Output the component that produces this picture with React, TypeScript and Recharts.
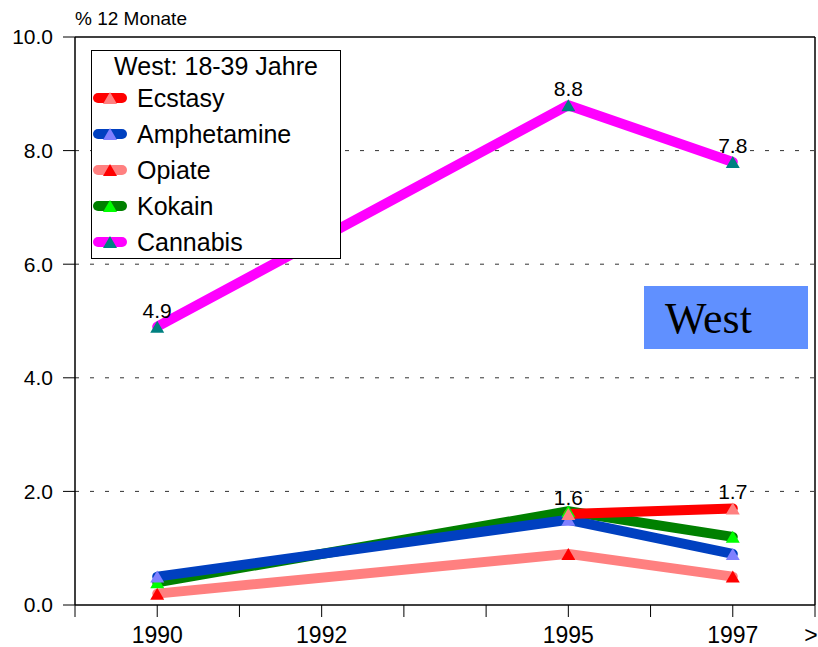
import { LineChart, Line, XAxis, YAxis, CartesianGrid, ReferenceLine, LabelList } from 'recharts'

// survey years and 12-month prevalence (%), West, age 18-39
const years = [1990, 1995, 1997]
const ecstasy = [null, 1.6, 1.7]
const amphetamine = [0.5, 1.5, 0.9]
const opiate = [0.2, 0.9, 0.5]
const kokain = [0.4, 1.65, 1.2]
const cannabis = [4.9, 8.8, 7.8]

const xTicks = [1989, 1990, 1991, 1992, 1993, 1994, 1995, 1996, 1997, 1998]
const xTickLabels: Record<number, string> = { 1990: '1990', 1992: '1992', 1995: '1995', 1997: '1997', 1998: '>' }
const yTicks = [0, 2, 4, 6, 8, 10]

const FONT = '"Liberation Sans", Arial, sans-serif'

const data = years.map((year, i) => ({
  year,
  ecstasy: ecstasy[i],
  amphetamine: amphetamine[i],
  opiate: opiate[i],
  kokain: kokain[i],
  cannabis: cannabis[i],
}))

interface Series {
  key: string
  name: string
  line: string
  marker: string
  labels: boolean
}

// legend order
const series: Series[] = [
  { key: 'ecstasy', name: 'Ecstasy', line: '#ff0000', marker: '#ff8080', labels: true },
  { key: 'amphetamine', name: 'Amphetamine', line: '#0040c0', marker: '#8080ff', labels: false },
  { key: 'opiate', name: 'Opiate', line: '#ff8080', marker: '#ff0000', labels: false },
  { key: 'kokain', name: 'Kokain', line: '#008000', marker: '#00ff00', labels: false },
  { key: 'cannabis', name: 'Cannabis', line: '#ff00ff', marker: '#008080', labels: true },
]

// drawing order (later = on top)
const drawOrder = ['opiate', 'kokain', 'amphetamine', 'ecstasy', 'cannabis']

function triangleDot(fill: string) {
  return (props: any) => {
    const { cx, cy, index } = props
    if (cx == null || cy == null || Number.isNaN(cy)) return <g key={`d-${index}`} />
    return (
      <polygon
        key={`d-${index}`}
        points={`${cx},${cy - 6} ${cx - 7},${cy + 6} ${cx + 7},${cy + 6}`}
        fill={fill}
      />
    )
  }
}

// x tick: the last label (">") sits on the right frame, pull it in a little
function XTick(props: any) {
  const { x, y, payload } = props
  const label = xTickLabels[payload.value] ?? ''
  if (!label) return <g />
  const isLast = payload.value === 1998
  return (
    <text
      x={x + (isLast ? -4 : 0)}
      y={y}
      dy="0.71em"
      textAnchor="middle"
      fill="#000"
      fontSize={23}
      fontFamily={FONT}
    >
      {label}
    </text>
  )
}

function Swatch({ line, marker }: { line: string; marker: string }) {
  return (
    <svg width={34} height={14} style={{ display: 'block' }}>
      <line x1={5} y1={7} x2={29} y2={7} stroke={line} strokeWidth={10} strokeLinecap="round" />
      <polygon points="17,1 10,13 24,13" fill={marker} />
    </svg>
  )
}

export default function App() {
  return (
    <div style={{ position: 'relative', width: 818, height: 647, fontFamily: FONT, background: '#fff' }}>
      <style>{'body{margin:0}'}</style>
      <LineChart width={818} height={647} data={data} margin={{ top: 37, right: 3, bottom: 0, left: 0 }}>
        <CartesianGrid
          vertical={false}
          horizontalValues={[2, 4, 6, 8]}
          stroke="#333"
          strokeDasharray="4 11"
        />
        <XAxis
          dataKey="year"
          type="number"
          domain={[1989, 1998]}
          ticks={xTicks}
          interval={0}
          height={42}
          tickSize={12}
          tickMargin={10}
          axisLine={{ stroke: '#000', strokeWidth: 1.5 }}
          tickLine={{ stroke: '#000', strokeWidth: 1 }}
          tick={<XTick />}
        />
        <YAxis
          type="number"
          domain={[0, 10]}
          ticks={yTicks}
          width={75}
          tickSize={12}
          tickMargin={10}
          tickFormatter={(v: number) => v.toFixed(1)}
          axisLine={{ stroke: '#000', strokeWidth: 1.5 }}
          tickLine={{ stroke: '#000', strokeWidth: 1 }}
          tick={{ fill: '#000', fontSize: 21, fontFamily: FONT }}
        />
        <ReferenceLine y={10} stroke="#000" strokeWidth={1.5} />
        <ReferenceLine x={1998} stroke="#000" strokeWidth={1.5} />
        {drawOrder.map((k) => {
          const s = series.find((x) => x.key === k)!
          return (
            <Line
              key={s.key}
              dataKey={s.key}
              name={s.name}
              stroke={s.line}
              strokeWidth={10}
              strokeLinecap="round"
              strokeLinejoin="round"
              dot={triangleDot(s.marker)}
              activeDot={false}
              isAnimationActive={false}
            >
              {s.labels && (
                <LabelList
                  dataKey={s.key}
                  position="top"
                  offset={9}
                  fill="#000"
                  fontSize={21}
                  fontFamily={FONT}
                  formatter={(v: any) => (v == null ? '' : Number(v).toFixed(1))}
                />
              )}
            </Line>
          )
        })}
      </LineChart>

      {/* axis unit */}
      <div style={{ position: 'absolute', left: 75, top: 8, fontSize: 19, lineHeight: '22px', color: '#000' }}>
        % 12 Monate
      </div>

      {/* legend */}
      <div
        style={{
          position: 'absolute',
          left: 91,
          top: 50,
          width: 250,
          height: 209,
          boxSizing: 'border-box',
          border: '1.5px solid #000',
          background: '#fff',
          color: '#000',
        }}
      >
        <div style={{ textAlign: 'center', fontSize: 25, lineHeight: '28px', marginTop: 1 }}>West: 18-39 Jahre</div>
        {series.map((s) => (
          <div key={s.key} style={{ display: 'flex', alignItems: 'center', height: 36, paddingLeft: 1 }}>
            <Swatch line={s.line} marker={s.marker} />
            <span style={{ fontSize: 25, marginLeft: 10 }}>{s.name}</span>
          </div>
        ))}
      </div>

      {/* region tag */}
      <div
        style={{
          position: 'absolute',
          left: 644,
          top: 286,
          width: 164,
          height: 63,
          background: '#6090ff',
          color: '#000',
          fontFamily: '"Liberation Serif", "Times New Roman", serif',
          fontSize: 44,
          lineHeight: '66px',
          paddingLeft: 21,
          boxSizing: 'border-box',
        }}
      >
        West
      </div>
    </div>
  )
}
